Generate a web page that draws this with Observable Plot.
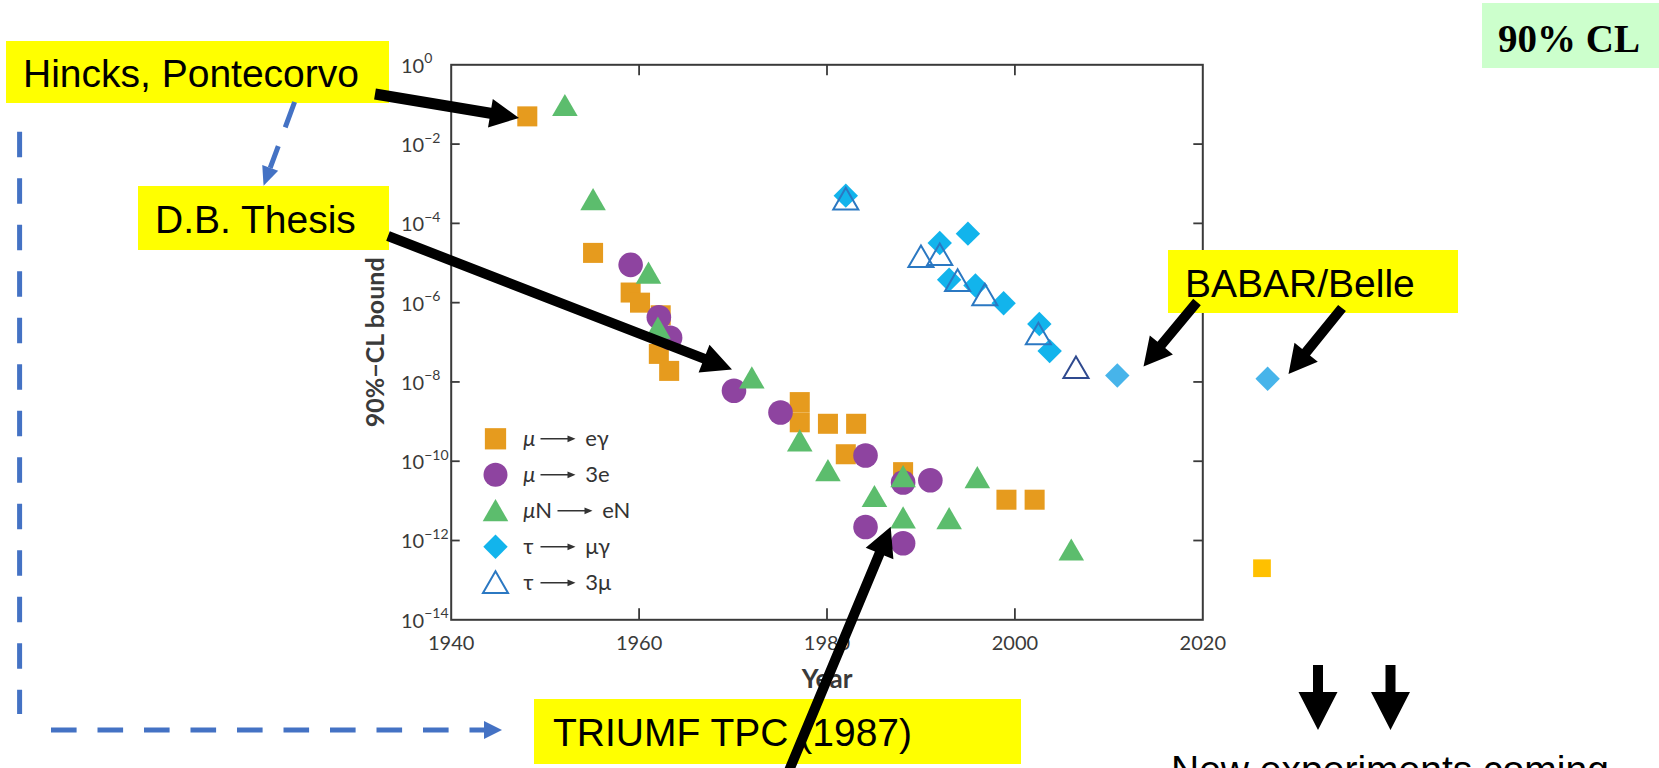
<!DOCTYPE html>
<html><head><meta charset="utf-8">
<script src="https://cdn.jsdelivr.net/npm/d3@7"></script>
<script src="https://cdn.jsdelivr.net/npm/@observablehq/plot@0.6"></script>
<style>
html,body{margin:0;padding:0;width:1659px;height:768px;overflow:hidden;background:#fff;}
#wrap{position:relative;width:1659px;height:768px;overflow:hidden;}
#wrap svg{position:absolute;left:0;top:0;}
</style></head><body><div id="wrap"></div>
<script>
// ---------- data ----------
// mu -> e gamma (orange squares)
const muEgYears = [1948.1, 1955.1, 1959.1, 1960.1, 1962.3, 1962.1, 1963.2, 1977.1, 1977.1, 1980.1, 1983.1, 1982.0, 1988.1, 1999.1, 2002.1];
const muEgBound = [5e-2, 1.8e-5, 1.8e-6, 1.0e-6, 4.8e-7, 5.1e-8, 1.9e-8, 3.1e-9, 9.6e-10, 8.8e-10, 8.8e-10, 1.5e-10, 5.3e-11, 1.07e-11, 1.07e-11];
// mu -> 3e (purple circles)
const mu3eYears = [1959.1, 1962.1, 1963.3, 1970.1, 1975.05, 1984.1, 1988.1, 1991.0, 1984.1, 1988.1];
const mu3eBound = [9e-6, 4.3e-7, 1.3e-7, 6e-9, 1.7e-9, 1.4e-10, 2.9e-11, 3.3e-11, 2.2e-12, 8.5e-13];
// mu N -> e N (green triangles)
const muNeNYears = [1952.1, 1955.1, 1961.0, 1962.0, 1972.0, 1977.1, 1980.1, 1985.05, 1988.1, 1988.1, 1993.0, 1996.0, 2006.0];
const muNeNBound = [7.8e-2, 3.3e-4, 4.6e-6, 1.9e-7, 1.05e-8, 2.7e-10, 4.8e-11, 1.07e-11, 3.4e-11, 3.1e-12, 2.95e-12, 3.2e-11, 4.8e-13];
// tau -> mu gamma (cyan diamonds)
const tauMuGYears = [1982.0, 1992.0, 1995.0, 1993.0, 1995.8, 1998.8, 2002.6, 2003.7];
const tauMuGBound = [5e-4, 3.2e-5, 5.5e-5, 3.8e-6, 2.7e-6, 9.7e-7, 2.9e-7, 6e-8];
// tau -> mu gamma, BABAR/Belle additions
const babarYears = [2010.9, 2026.9];
const babarBound = [1.45e-8, 1.2e-8];
// tau -> 3 mu (open triangles)
const tau3muYears = [1982.0, 1990.0, 1992.0, 1993.9, 1996.8, 2002.5];
const tau3muBound = [3.4e-4, 1.2e-5, 1.35e-5, 3e-6, 1.3e-6, 1.35e-7];
const tau3muNewYears = [2006.5];
const tau3muNewBound = [1.9e-8];
// future mu -> e gamma
const futureYears = [2026.3];
const futureBound = [2e-13];

const xTicks = [1940, 1960, 1980, 2000, 2020];
const xInnerTicks = [1960, 1980, 2000];
const yTicks = [1, 1e-2, 1e-4, 1e-6, 1e-8, 1e-10, 1e-12, 1e-14];
const yInnerTicks = [1e-2, 1e-4, 1e-6, 1e-8, 1e-10, 1e-12];

const legendFrom = ["μ", "μ", "μ", "τ", "τ"];
const legendTo = ["eγ", "3e", "eN", "μγ", "3μ"];

// ---------- styling ----------
const C = {orange:"#E69B1E", purple:"#8E44A0", green:"#5CBD6D", cyan:"#12B4EC",
           babar:"#47B4EA", open:"#2B78C2", navy:"#2F4A8F", future:"#FFC000", axis:"#3a3a3a"};
const rec = (ys, vs) => ys.map((y, i) => ({year: y, bound: vs[i]}));

const W = 1659, H = 768;
const mL = 450.7, mR = 456.7, mT = 64.3, mB = 148.7;
const PW = W - mL - mR, PH = H - mT - mB;

const yExp = d => String(Math.round(Math.log10(d))).replace("-", "−");

const legendArrow = {draw(ctx) {
  ctx.moveTo(0, -0.8); ctx.lineTo(27, -0.8); ctx.lineTo(27, -3.4); ctx.lineTo(35, 0);
  ctx.lineTo(27, 3.4); ctx.lineTo(27, 0.8); ctx.lineTo(0, 0.8); ctx.closePath();
}};

const legendSym = [
  {symbol:"square", r:12, fill:C.orange, stroke:"none"},
  {symbol:"circle", r:12, fill:C.purple, stroke:"none"},
  {symbol:"triangle", r:9.5, fill:C.green, stroke:"none", dyAdd:3},
  {symbol:"diamond2", r:11, fill:C.cyan, stroke:"none"},
  {symbol:"triangle", r:9.3, fill:"none", stroke:C.open, strokeWidth:2, dyAdd:3}
];
const rowDy = [-181, -145, -109, -73, -37];

const legendMarks = [];
legendSym.forEach((s, i) => {
  legendMarks.push(Plot.dot([0], {frameAnchor:"bottom-left", dx:44.3, dy:rowDy[i] + (s.dyAdd||0),
    symbol:s.symbol, r:s.r, fill:s.fill, stroke:s.stroke, strokeWidth:s.strokeWidth||1}));
  legendMarks.push(Plot.text([legendFrom[i]], {frameAnchor:"bottom-left", dx:72, dy:rowDy[i],
    textAnchor:"start", lineAnchor:"middle", fontStyle: legendFrom[i] === "μ" ? "italic" : "normal", fontSize:22, fill:"#333"}));
  const extra = i === 2 ? 17 : 0;
  if (i === 2) legendMarks.push(Plot.text(["N"], {frameAnchor:"bottom-left", dx:84, dy:rowDy[i],
    textAnchor:"start", lineAnchor:"middle", fontSize:22, fill:"#333"}));
  legendMarks.push(Plot.dot([0], {frameAnchor:"bottom-left", dx:89.3 + extra, dy:rowDy[i],
    symbol:legendArrow, fill:"#333", stroke:"none"}));
  legendMarks.push(Plot.text([legendTo[i]], {frameAnchor:"bottom-left", dx:134 + extra, dy:rowDy[i],
    textAnchor:"start", lineAnchor:"middle", fontSize:22, fill:"#333"}));
});

const plot = Plot.plot({
  width: W, height: H,
  marginLeft: mL, marginRight: mR, marginTop: mT, marginBottom: mB,
  x: {domain: [1940, 2020], axis: null},
  y: {type: "log", domain: [1e-14, 1], axis: null},
  style: {fontFamily: "Lato, 'Open Sans', sans-serif", fontSize: "20px", color: C.axis, background: "none", overflow: "visible"},
  marks: [
    Plot.frame({stroke: C.axis, strokeWidth: 2}),
    Plot.ruleX(xInnerTicks, {x: d => d, insetTop: PH - 11, stroke: C.axis, strokeWidth: 1.8}),
    Plot.ruleX(xInnerTicks, {x: d => d, insetBottom: PH - 11, stroke: C.axis, strokeWidth: 1.8}),
    Plot.ruleY(yInnerTicks, {y: d => d, insetRight: PW - 9, stroke: C.axis, strokeWidth: 1.8}),
    Plot.ruleY(yInnerTicks, {y: d => d, insetLeft: PW - 9, stroke: C.axis, strokeWidth: 1.8}),
    Plot.axisX({ticks: xTicks, tickSize: 0, tickPadding: 16, tickFormat: d => String(d), label: null, fontSize: 20}),
    Plot.text(yTicks, {y: d => d, text: () => "10", frameAnchor: "left", dx: -27, dy: 1.5,
      textAnchor: "end", lineAnchor: "middle", fontSize: 20, fill: C.axis}),
    Plot.text(yTicks, {y: d => d, text: yExp, frameAnchor: "left", dx: -27, dy: -6,
      textAnchor: "start", lineAnchor: "middle", fontSize: 14, fill: C.axis}),
    Plot.text(["Year"], {frameAnchor: "bottom", dy: 60, lineAnchor: "middle", fontWeight: "bold", fontSize: 26, fill: C.axis}),
    Plot.text(["90%−CL bound"], {frameAnchor: "left", dx: -75, rotate: -90, textAnchor: "middle", lineAnchor: "middle",
      fontWeight: "bold", fontSize: 25, fill: C.axis}),
    Plot.dot(rec(muEgYears, muEgBound), {x: "year", y: "bound", symbol: "square", r: 11.3, fill: C.orange}),
    Plot.dot(rec(futureYears, futureBound), {x: "year", y: "bound", symbol: "square", r: 10, fill: C.future}),
    Plot.dot(rec(mu3eYears, mu3eBound), {x: "year", y: "bound", symbol: "circle", r: 12.3, fill: C.purple}),
    Plot.dot(rec(muNeNYears, muNeNBound), {x: "year", y: "bound", symbol: "triangle", r: 9.5, fill: C.green}),
    Plot.dot(rec(tauMuGYears, tauMuGBound), {x: "year", y: "bound", symbol: "diamond2", r: 11, fill: C.cyan}),
    Plot.dot(rec(babarYears, babarBound), {x: "year", y: "bound", symbol: "diamond2", r: 11, fill: C.babar}),
    Plot.dot(rec(tau3muYears, tau3muBound), {x: "year", y: "bound", symbol: "triangle", r: 9.3, fill: "none", stroke: C.open, strokeWidth: 2}),
    Plot.dot(rec(tau3muNewYears, tau3muNewBound), {x: "year", y: "bound", symbol: "triangle", r: 9.3, fill: "none", stroke: C.navy, strokeWidth: 2}),
    ...legendMarks
  ]
});
document.getElementById("wrap").appendChild(plot);

// ---------- slide annotations ----------
const ov = d3.select("#wrap").append("svg").attr("width", W).attr("height", H)
  .style("font-family", "'Liberation Sans', Arial, sans-serif");

const boxes = [
  {x:6, y:41, w:383, h:62, text:"Hincks, Pontecorvo", tx:23, ty:87},
  {x:138, y:186, w:251, h:64, text:"D.B. Thesis", tx:155, ty:233},
  {x:1168, y:250, w:290, h:63, text:"BABAR/Belle", tx:1185, ty:297},
  {x:534, y:699, w:487, h:65, text:"TRIUMF TPC (1987)", tx:553, ty:746}
];
boxes.forEach(b => {
  ov.append("rect").attr("x", b.x).attr("y", b.y).attr("width", b.w).attr("height", b.h).attr("fill", "#FFFF00");
  ov.append("text").attr("x", b.tx).attr("y", b.ty).attr("font-size", 39).attr("fill", "#000").text(b.text);
});
ov.append("rect").attr("x", 1482).attr("y", 3).attr("width", 177).attr("height", 65).attr("fill", "#CCFFCC");
ov.append("text").attr("x", 1498).attr("y", 52).attr("font-size", 39).attr("font-weight", "bold")
  .attr("font-family", "'Liberation Serif', 'Times New Roman', serif").attr("fill", "#000").text("90% CL");
ov.append("text").attr("x", 1171).attr("y", 783).attr("font-size", 39).attr("fill", "#000").text("New experiments coming");

function blockArrow(x1, y1, x2, y2, sw, hw, hl) {
  const dx = x2 - x1, dy = y2 - y1, L = Math.hypot(dx, dy), ux = dx / L, uy = dy / L, px = -uy, py = ux;
  const bx = x2 - ux * hl, by = y2 - uy * hl;
  const pts = [[x1 + px*sw/2, y1 + py*sw/2], [bx + px*sw/2, by + py*sw/2], [bx + px*hw/2, by + py*hw/2], [x2, y2],
               [bx - px*hw/2, by - py*hw/2], [bx - px*sw/2, by - py*sw/2], [x1 - px*sw/2, y1 - py*sw/2]];
  return "M" + pts.map(p => p[0].toFixed(1) + "," + p[1].toFixed(1)).join("L") + "Z";
}
const arrows = [
  [375, 94, 519, 118, 11, 29, 29],
  [388, 236, 732, 369.5, 10, 30, 30],
  [1197, 302, 1143.5, 366.5, 10, 30, 28],
  [1342, 308, 1288.5, 374, 10, 30, 28],
  [783, 785, 890.7, 526.7, 10, 30, 29],
  [1318, 665, 1318, 730, 10, 39, 38],
  [1390.5, 665, 1390.5, 730, 10, 39, 38]
];
arrows.forEach(a => ov.append("path").attr("d", blockArrow(...a)).attr("fill", "#000"));

const blue = "#4472C4";
ov.append("path").attr("d", "M19.6,131.7V714").attr("stroke", blue).attr("stroke-width", 5)
  .attr("fill", "none").attr("stroke-dasharray", "25.6 20.9");
ov.append("path").attr("d", "M51,730H486").attr("stroke", blue).attr("stroke-width", 5)
  .attr("fill", "none").attr("stroke-dasharray", "25.6 20.9");
ov.append("path").attr("d", "M484,721L502,730L484,739Z").attr("fill", blue);
// dashed arrow Hincks -> D.B.
(function(){
  const x1 = 294.6, y1 = 102, x2 = 263.6, y2 = 185.7, hl = 19, hw = 17;
  const L = Math.hypot(x2 - x1, y2 - y1), ux = (x2 - x1) / L, uy = (y2 - y1) / L;
  const bx = x2 - ux * hl, by = y2 - uy * hl;
  ov.append("path").attr("d", `M${x1},${y1}L${bx},${by}`).attr("stroke", blue).attr("stroke-width", 5)
    .attr("fill", "none").attr("stroke-dasharray", "27 20");
  const px = -uy, py = ux;
  ov.append("path").attr("d", `M${x2},${y2}L${bx + px*hw/2},${by + py*hw/2}L${bx - px*hw/2},${by - py*hw/2}Z`).attr("fill", blue);
})();
</script>
</body></html>
